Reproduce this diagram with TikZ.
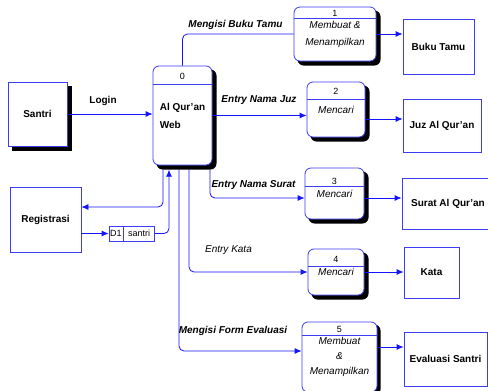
\documentclass[tikz,border=0pt]{standalone}
\usepackage{fontspec}
\setmainfont{Liberation Sans}
\usetikzlibrary{arrows.meta,positioning}

\definecolor{flowblue}{RGB}{20,20,255}
\definecolor{boxblue}{RGB}{60,60,245}

\tikzset{
    entity/.style={draw=boxblue, line width=0.8pt, fill=white, rectangle, font=\bfseries},
    proc/.style={draw=boxblue, line width=0.8pt, fill=white, rectangle, rounded corners=6pt, font=\itshape},
    shadowbox/.style={fill=black, draw=none, rectangle, inner sep=0pt},
    boxline/.style={draw=boxblue, line width=0.8pt},
    flow/.style={draw=flowblue, line width=0.8pt, rounded corners=5pt},
    flowlabel/.style={font=\bfseries\itshape},
    store/.style={draw=boxblue, line width=0.7pt, rectangle, minimum height=15pt, inner sep=1pt, font=\small}
}

\begin{document}
\begin{tikzpicture}[x=1pt, y=-1pt, >={Latex[length=7pt,width=6pt]}]
    \useasboundingbox (0,0) rectangle (488,391);
    \fill [white] (0,0) rectangle (488,391);

    % shadows
    \node (santrish) at (41.5,118) [shadowbox, minimum width=60pt, minimum height=65pt] {};
    \node (p0sh) at (186.5,119.5) [shadowbox, rounded corners=6pt, minimum width=60pt, minimum height=100pt] {};
    \node (p1sh) at (339,38) [shadowbox, rounded corners=6pt, minimum width=83pt, minimum height=55pt] {};
    \node (p2sh) at (340,113.5) [shadowbox, rounded corners=6pt, minimum width=59pt, minimum height=56pt] {};
    \node (p3sh) at (338.5,197.5) [shadowbox, rounded corners=6pt, minimum width=60pt, minimum height=52pt] {};
    \node (p4sh) at (340,276) [shadowbox, rounded corners=6pt, minimum width=57pt, minimum height=47pt] {};
    \node (p5sh) at (342.5,360) [shadowbox, rounded corners=6pt, minimum width=76pt, minimum height=71pt] {};

    % external entities
    \node (santri) at (37.5,114) [entity, minimum width=59pt, minimum height=64pt] {Santri};
    \node (reg) at (45.5,219.5) [entity, minimum width=71pt, minimum height=65pt] {Registrasi};
    \node (buku) at (438.5,46.5) [entity, minimum width=71pt, minimum height=55pt] {Buku Tamu};
    \node (juz) at (442,125.5) [entity, minimum width=78pt, minimum height=53pt] {Juz Al Qur'an};
    \node (surat) at (448,203.5) [entity, minimum width=92pt, minimum height=51pt] {Surat Al Qur'an};
    \node (kata) at (431.5,272.5) [entity, minimum width=55pt, minimum height=51pt] {Kata};
    \node (evaluasi) at (445.5,359) [entity, minimum width=83pt, minimum height=54pt] {Evaluasi Santri};

    % processes
    \node (p0) at (182.5,115.5) [proc, minimum width=59pt, minimum height=99pt, align=left, font=\bfseries] {Al Qur'an\\[6pt]Web};
    \node (p0id) at (182.5,76) [font=\small] {0};
    \draw [boxline] ([yshift=-19pt]p0.north west) -- ([yshift=-19pt]p0.north east);

    \node (p1) at (335,34) [proc, minimum width=82pt, minimum height=54pt, align=center] {Membuat \&\\[5pt]Menampilkan};
    \node (p1id) at (335,13) [font=\small] {1};
    \draw [boxline] ([yshift=-12pt]p1.north west) -- ([yshift=-12pt]p1.north east);

    \node (p2) at (336,109.5) [proc, minimum width=58pt, minimum height=55pt] {Mencari};
    \node (p2id) at (336,91) [font=\small] {2};
    \draw [boxline] ([yshift=-18pt]p2.north west) -- ([yshift=-18pt]p2.north east);

    \node (p3) at (334.5,193.5) [proc, minimum width=59pt, minimum height=51pt] {Mencari};
    \node (p3id) at (334.5,181) [font=\small] {3};
    \draw [boxline] ([yshift=-19pt]p3.north west) -- ([yshift=-19pt]p3.north east);

    \node (p4) at (336,272) [proc, minimum width=56pt, minimum height=46pt] {Mencari};
    \node (p4id) at (336,259) [font=\small] {4};
    \draw [boxline] ([yshift=-18pt]p4.north west) -- ([yshift=-18pt]p4.north east);

    \node (p5) at (339.5,357) [proc, minimum width=75pt, minimum height=70pt, align=center] {Membuat\\[3pt]\&\\[3pt]Menampilkan};
    \node (p5id) at (339.5,329) [font=\small] {5};
    \draw [boxline] ([yshift=-14pt]p5.north west) -- ([yshift=-14pt]p5.north east);

    % data store
    \node (d1id) at (116,233.5) [store, minimum width=14pt] {D1};
    \node (d1) [store, right=0pt of d1id, minimum width=31pt] {santri};

    % flows
    \draw [flow, ->] (santri.east) -- (santri.east -| p0.west);
    \draw [flow] (p0.north) |- (p1.west);
    \draw [flow, ->] (p0.east) -- (p0.east -| p2.west);
    \draw [flow, ->] ([xshift=23.5pt]p0sh.south) |- ([yshift=-4.5pt]p3.west);
    \draw [flow, ->] ([xshift=2.5pt]p0sh.south) |- (p4.west);
    \draw [flow, ->] ([xshift=-7.5pt]p0sh.south) |- ([yshift=6pt]p5.west);
    \draw [flow, ->] ([xshift=-23.5pt]p0sh.south) |- ([yshift=12.5pt]reg.east);
    \draw [flow, ->] (d1id.west -| reg.east) -- (d1id.west);
    \draw [flow, ->] (d1.east) -| ([xshift=-17.5pt]p0sh.south);

    \draw [flow, ->] (p1.east) -- (p1.east -| buku.west);
    \draw [flow, ->] ([yshift=-9.5pt]p2.east) -- ([yshift=-9.5pt]p2.east -| juz.west);
    \draw [flow, ->] ([yshift=-4.5pt]p3.east) -- ([yshift=-4.5pt]p3.east -| surat.west);
    \draw [flow, ->] (p4.east) -- (p4.east -| kata.west);
    \draw [flow, ->] ([yshift=10pt]p5.east) -- ([yshift=10pt]p5.east -| evaluasi.west);

    % flow labels
    \node (lblogin) at (103,101) [flowlabel, font=\bfseries] {Login};
    \node (lbbuku) at (235.5,25) [flowlabel] {Mengisi Buku Tamu};
    \node (lbjuz) at (259,100) [flowlabel] {Entry Nama Juz};
    \node (lbsurat) at (253.5,185) [flowlabel] {Entry Nama Surat};
    \node (lbkata) at (228.5,250) [flowlabel, font=\itshape] {Entry Kata};
    \node (lbform) at (233,331) [flowlabel] {Mengisi Form Evaluasi};
\end{tikzpicture}
\end{document}
